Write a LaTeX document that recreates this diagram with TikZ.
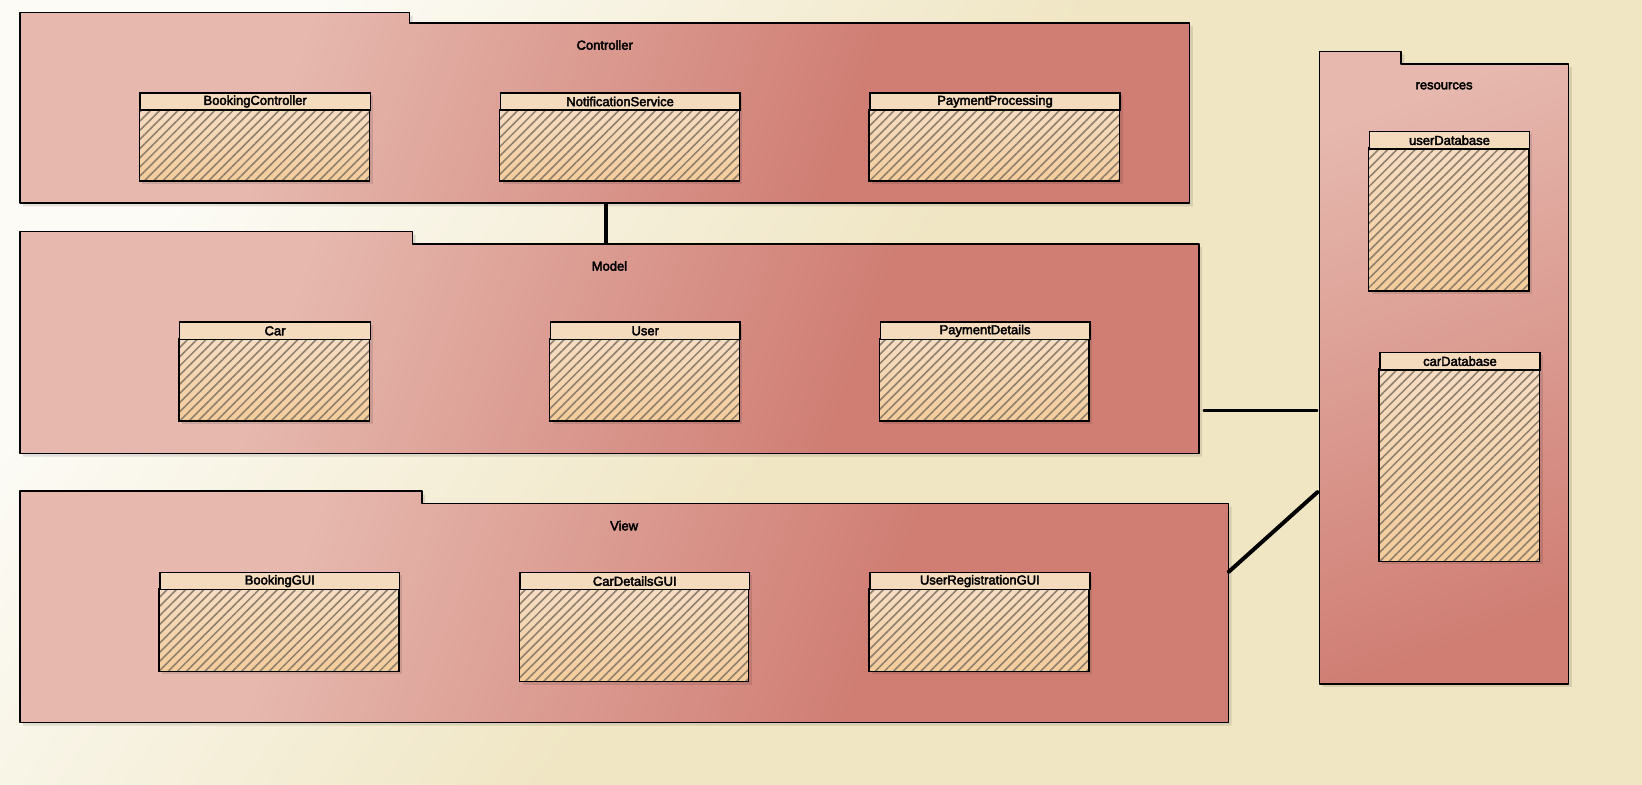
\documentclass[tikz,border=0pt]{standalone}
\usepackage{fontspec}
\setmainfont{Liberation Sans}
\newfontfamily\lblfont[FakeBold=3]{Liberation Sans}
\usetikzlibrary{patterns.meta}

\definecolor{bgA}{HTML}{FCFBF6}
\definecolor{bgB}{HTML}{F0E6C4}
\definecolor{pkLight}{HTML}{E6B8AE}
\definecolor{pkDark}{HTML}{D07E74}
\definecolor{hdrFill}{HTML}{F5DBBE}
\definecolor{clsTop}{HTML}{F6DDC3}
\definecolor{clsBot}{HTML}{F4CC9B}
\definecolor{hatchCol}{HTML}{8E7F6D}

% package fills: light at the top left, darker towards the bottom right
\pgfdeclarehorizontalshading{pkgwide}{100bp}{color(0bp)=(pkLight); color(33bp)=(pkLight); color(63bp)=(pkDark); color(100bp)=(pkDark)}
\pgfdeclarehorizontalshading{pkgtall}{100bp}{color(0bp)=(pkLight); color(25bp)=(pkLight); color(75bp)=(pkDark); color(100bp)=(pkDark)}
\pgfdeclarehorizontalshading{bgshade}{100bp}{color(0bp)=(bgA); color(25bp)=(bgA); color(50bp)=(bgB); color(100bp)=(bgB)}

\tikzset{
  lbl/.style={font=\lblfont\fontsize{12.4}{14}\selectfont, text=black, inner sep=0pt},
  outline/.style={draw=black, line width=1.35pt},
  shadowfill/.style={fill=black, opacity=0.10},
  conn/.style={draw=black, line width=3.8pt, line cap=round},
}

% package: #1 name, #2 x0, #3 tab top, #4 tab right, #5 body top, #6 x1, #7 y1, #8 shading, #9 title
\newcommand\umlpkg[9]{%
  \begin{scope}[shift={(3,3)}]
    \fill[shadowfill] (#2,#7) -- (#2,#3) -- (#4,#3) -- (#4,#5) -- (#6,#5) -- (#6,#7) -- cycle;
  \end{scope}
  \shade[#8, outline, line join=round]
    (#2,#7) -- (#2,#3) -- (#4,#3) -- (#4,#5) -- (#6,#5) -- (#6,#7) -- cycle;
  \node[inner sep=0pt, minimum width={#6-#2}, minimum height={#7-#5}, anchor=north west] (#1) at (#2,#5) {};
  \node[lbl] (#1-title) at ({(#2+#6)/2},{#5+21}) {#9};
}

% class: #1 name, #2 x0, #3 y0, #4 x1, #5 y1, #6 label
\newcommand\umlclass[6]{%
  \fill[shadowfill] (#2+3,#3+3) rectangle (#4+3,#5+3);
  \shade[top color=clsTop, bottom color=clsBot] (#2,#3+16.5) rectangle (#4,#5);
  \fill[pattern={Lines[angle=45,distance=6.2pt,line width=1.5pt]}, pattern color=hatchCol]
    (#2,#3+16.5) rectangle (#4,#5);
  \draw[outline] (#2,#3+16.5) rectangle (#4,#5);
  \node[lbl, outline, fill=hdrFill, minimum width={#4-#2}, minimum height=16.5, anchor=north west] (#1) at (#2,#3) {#6};
}

\begin{document}
\begin{tikzpicture}[x=1pt, y=-1pt]
  \useasboundingbox (0,0) rectangle (1568,749);
  \shade[shading=bgshade, shading angle=-35] (0,0) rectangle (1568,749);

  % packages
  \umlpkg{ctrl}{19}{12}{391}{22}{1136}{194}{shading=pkgwide, shading angle=-20}{Controller}
  \umlpkg{model}{19}{221}{394}{233}{1145}{433}{shading=pkgwide, shading angle=-20}{Model}
  \umlpkg{view}{19}{469}{403}{481}{1173}{690}{shading=pkgwide, shading angle=-20}{View}
  \umlpkg{res}{1260}{49}{1338}{61}{1498}{653}{shading=pkgtall, shading angle=-70}{resources}

  % classes
  \umlclass{bookingctrl}{133}{88}{353}{173}{BookingController}
  \umlclass{notif}{477}{88}{706}{173}{NotificationService}
  \umlclass{payproc}{830}{88}{1069}{173}{PaymentProcessing}
  \umlclass{car}{171}{307}{353}{402}{Car}
  \umlclass{user}{525}{307}{706}{402}{User}
  \umlclass{paydet}{840}{307}{1040}{402}{PaymentDetails}
  \umlclass{bookinggui}{152}{546}{381}{641}{BookingGUI}
  \umlclass{cardetgui}{496}{546}{715}{651}{CarDetailsGUI}
  \umlclass{userreggui}{830}{546}{1040}{641}{UserRegistrationGUI}
  \umlclass{userdb}{1307}{125}{1460}{278}{userDatabase}
  \umlclass{cardb}{1317}{336}{1470}{536}{carDatabase}

  % connectors
  \coordinate (cmx) at (579,0);
  \coordinate (mry) at (0,392);
  \coordinate (vry) at (0,546);
  \coordinate (rvy) at (0,470);
  \draw[conn, line cap=butt] (ctrl.south -| cmx) -- (model.north -| cmx);
  \draw[conn] ([xshift=5pt]model.east |- mry) -- ([xshift=-3pt]res.west |- mry);
  \draw[conn] (view.east |- vry) -- ([xshift=-2pt]res.west |- rvy);
\end{tikzpicture}
\end{document}
